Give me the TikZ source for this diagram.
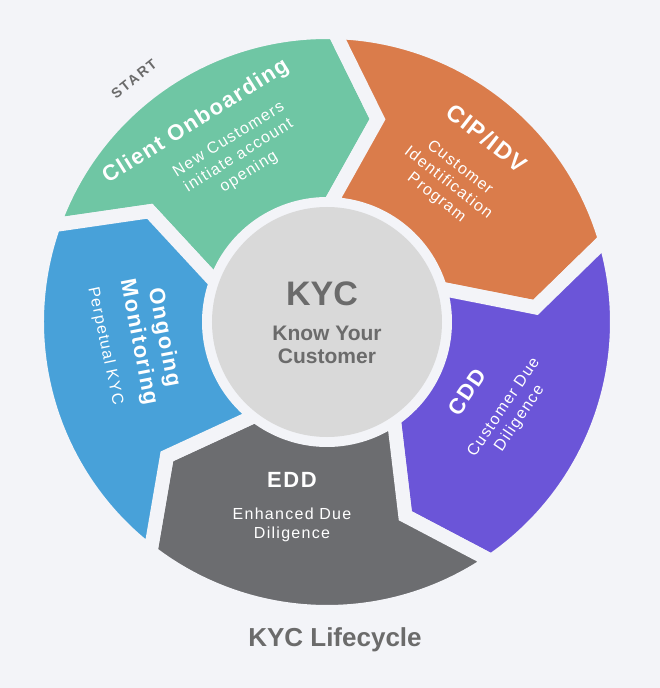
\documentclass[tikz,border=0pt]{standalone}
\usepackage{fontspec}
\setmainfont{Liberation Sans}
\definecolor{bgcol}{HTML}{F3F4F8}
\definecolor{onboardgreen}{HTML}{6FC6A4}
\definecolor{ciporange}{HTML}{DA7C4B}
\definecolor{cddpurple}{HTML}{6B55D8}
\definecolor{eddgray}{HTML}{6C6D70}
\definecolor{monitorblue}{HTML}{48A1D9}
\definecolor{hubgray}{HTML}{D9D9D9}
\definecolor{labelgray}{HTML}{6B6B6B}
\begin{document}
\begin{tikzpicture}[x=1pt, y=1pt,
  seg/.style={draw=bgcol, line width=14pt, line join=miter},
  title/.style={text=white, inner sep=0pt, align=center,
    font=\fontsize{22}{26}\selectfont\bfseries\addfontfeatures{LetterSpace=7}},
  sub/.style={text=white, inner sep=0pt, align=center,
    font=\fontsize{16}{19}\selectfont\addfontfeatures{LetterSpace=8}},
  hubtext/.style={text=labelgray, inner sep=0pt, align=center}]
  \fill[bgcol] (-327,-366) rectangle (333,322);
  \useasboundingbox (-327,-366) rectangle (333,322);

  % ring segments, clockwise from the top left
  \filldraw[seg, fill=onboardgreen]
  (160.5:290) arc[start angle=160.5, end angle=88.5, radius=290] --
  (76:209) -- (88.5:118) arc[start angle=88.5, end angle=160.5, radius=118] --
  (148:209) -- cycle;
  \filldraw[seg, fill=ciporange]
  (88.5:290) arc[start angle=88.5, end angle=16.5, radius=290] --
  (4:209) -- (16.5:118) arc[start angle=16.5, end angle=88.5, radius=118] --
  (76:209) -- cycle;
  \filldraw[seg, fill=cddpurple]
  (16.5:290) arc[start angle=16.5, end angle=-55.5, radius=290] --
  (-68:209) -- (-55.5:118) arc[start angle=-55.5, end angle=16.5, radius=118] --
  (4:209) -- cycle;
  \filldraw[seg, fill=eddgray]
  (-55.5:290) arc[start angle=-55.5, end angle=-127.5, radius=290] --
  (-140:209) -- (-127.5:118) arc[start angle=-127.5, end angle=-55.5, radius=118] --
  (-68:209) -- cycle;
  \filldraw[seg, fill=monitorblue]
  (-127.5:290) arc[start angle=-127.5, end angle=-199.5, radius=290] --
  (-212:209) -- (-199.5:118) arc[start angle=-199.5, end angle=-127.5, radius=118] --
  (-140:209) -- cycle;

  % centre
  \fill[hubgray] (0,0) circle(115);
  \node[hubtext, font=\fontsize{34}{36}\selectfont\bfseries] (kyc) at (-5,28) {KYC};
  \node[hubtext, font=\fontsize{21}{23.5}\selectfont\bfseries] (know) at (0,-23) {Know Your\\Customer};

  % segment labels
  \node[text=labelgray, inner sep=0pt, rotate=38.5,
    font=\fontsize{14}{16}\selectfont\bfseries\addfontfeatures{LetterSpace=14}] (start) at (-193,243) {START};
  \node[title, rotate=32] (onboard) at (-131,200) {Client Onboarding};
  \node[sub, rotate=32] (onboardsub) at (-88,166) {New Customers\\initiate account\\opening};
  \node[title, font=\fontsize{23.5}{26}\selectfont\bfseries\addfontfeatures{LetterSpace=7}, rotate=-38] (cip) at (160,184) {CIP/IDV};
  \node[sub, rotate=-38] (cipsub) at (121,139) {Customer\\Identification\\Program};
  \node[title, rotate=56] (cdd) at (140,-70) {CDD};
  \node[sub, rotate=56] (cddsub) at (185,-91) {Customer Due\\Diligence};
  \node[title] (edd) at (-35,-158) {EDD};
  \node[sub] (eddsub) at (-35,-203) {Enhanced Due\\Diligence};
  \node[title, rotate=-79] (monitor) at (-176,-18) {Ongoing\\Monitoring};
  \node[sub, rotate=-78] (monitorsub) at (-222,-24) {Perpetual KYC};

  \node[hubtext, font=\fontsize{26}{30}\selectfont\bfseries] (caption) at (8,-318) {KYC Lifecycle};
\end{tikzpicture}
\end{document}
